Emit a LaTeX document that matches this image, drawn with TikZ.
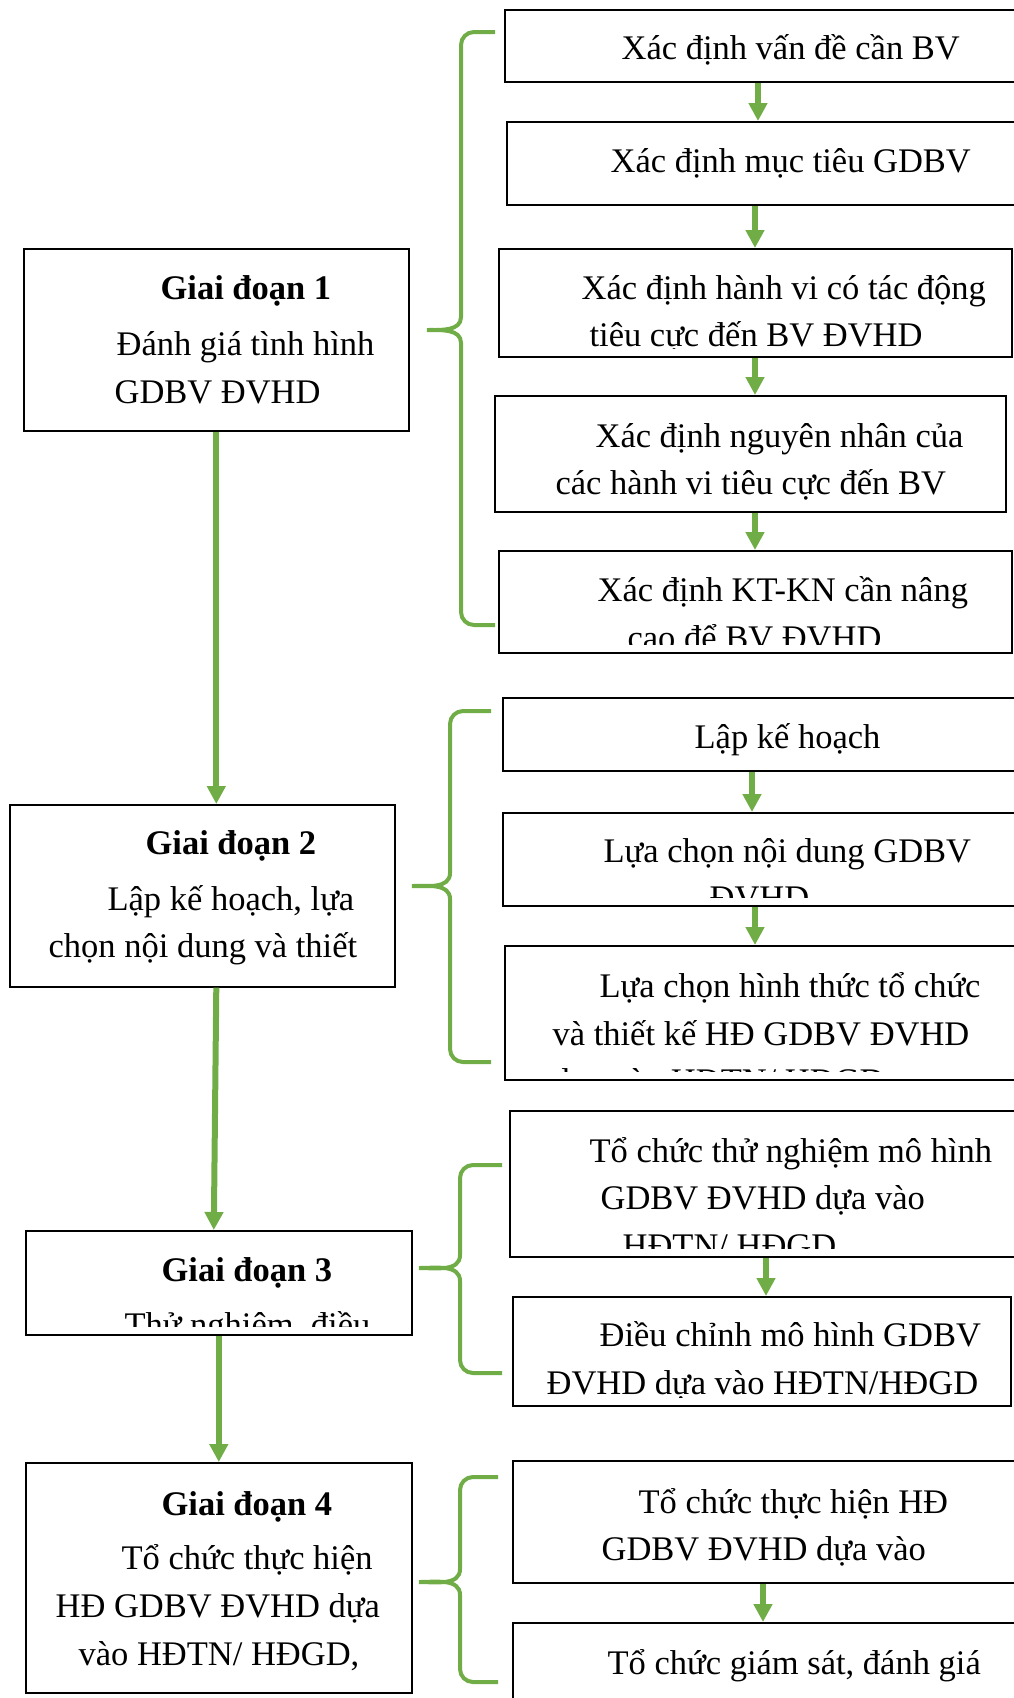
\documentclass[tikz,border=0pt]{standalone}
\usepackage{fontspec}
\setmainfont{Liberation Serif}
\usetikzlibrary{arrows.meta, calc}
\definecolor{leaf}{HTML}{70AD47}

\begin{document}
\begin{tikzpicture}[
    x=1pt, y=-1pt, % pixel grid, y runs downwards
    box/.style={draw, line width=1.6pt, anchor=north west, inner sep=0pt}, % step box
    txt/.style={draw=none, minimum size=0pt, font=\fontsize{34.5}{47.7}\selectfont, align=left, anchor=north west, inner sep=0pt},
    words/.style n args={4}{path picture={
        \clip (path picture bounding box.north west) rectangle ([yshift=8pt]path picture bounding box.south east);
        \node[txt] (#4) at ([shift={(#1,#2-2.5)}]path picture bounding box.north west) {#3};}}, % clipped text
    link/.style={leaf, line width=6pt, -{Triangle[length=18pt, width=18pt]}}, % green arrow
    brace/.style={leaf, line width=4pt} % green curly bracket
]

    % Page
    \useasboundingbox (0,0) rectangle (1014,1698);
    \clip (0,0) rectangle (1014,1698);

    % Stages (left column)
    \node[box, minimum width=385pt, minimum height=182pt,
        words={90}{19.3}{\hspace*{46pt}\strut\textbf{Giai đoạn 1}\\[8pt]\hspace*{2pt}Đánh giá tình hình\\GDBV ĐVHD}{g1t}] (g1) at (23,248) {};
    \node[box, minimum width=385pt, minimum height=182pt,
        words={38}{17.9}{\hspace*{97pt}\strut\textbf{Giai đoạn 2}\\[8pt]\hspace*{59pt}Lập kế hoạch, lựa\\chọn nội dung và thiết\\\hspace*{28pt}kế HĐ GDBV ĐVHD}{g2t}] (g2) at (9,804) {};
    \node[box, minimum width=386pt, minimum height=104pt,
        words={98}{18.6}{\hspace*{37pt}\strut\textbf{Giai đoạn 3}\\[8pt]Thử nghiệm, điều}{g3t}] (g3) at (25,1230) {};
    \node[box, minimum width=386pt, minimum height=230pt,
        words={29}{20.7}{\hspace*{106pt}\strut\textbf{Giai đoạn 4}\\[7pt]\hspace*{66pt}Tổ chức thực hiện\\HĐ GDBV ĐVHD dựa\\\hspace*{23pt}vào HĐTN/ HĐGD,}{g4t}] (g4) at (25,1462) {};

    % Steps of stage 1
    \node[box, minimum width=530pt, minimum height=72pt,
        words={116}{17.8}{\strut Xác định vấn đề cần BV}{a1t}] (a1) at (504,9) {};
    \node[box, minimum width=530pt, minimum height=83pt,
        words={103}{19.1}{\strut Xác định mục tiêu GDBV}{a2t}] (a2) at (506,121) {};
    \node[box, minimum width=513pt, minimum height=108pt,
        words={82}{18.7}{\strut Xác định hành vi có tác động\\\hspace*{8pt}tiêu cực đến BV ĐVHD}{a3t}] (a3) at (498,248) {};
    \node[box, minimum width=511pt, minimum height=116pt,
        words={60}{19.6}{\hspace*{40pt}\strut Xác định nguyên nhân của\\các hành vi tiêu cực đến BV}{a4t}] (a4) at (494,395) {};
    \node[box, minimum width=513pt, minimum height=102pt,
        words={98}{19.3}{\strut Xác định KT-KN cần nâng\\\hspace*{30pt}cao để BV ĐVHD}{a5t}] (a5) at (498,550) {};

    % Steps of stage 2
    \node[box, minimum width=530pt, minimum height=73pt,
        words={191}{18.8}{\strut Lập kế hoạch}{b1t}] (b1) at (502,697) {};
    \node[box, minimum width=530pt, minimum height=93pt,
        words={100}{17.5}{\strut Lựa chọn nội dung GDBV\\\hspace*{106pt}ĐVHD}{b2t}] (b2) at (502,812) {};
    \node[box, minimum width=530pt, minimum height=134pt,
        words={47}{19.9}{\hspace*{47pt}\strut Lựa chọn hình thức tổ chức\\và thiết kế HĐ GDBV ĐVHD\\dựa vào HĐTN/ HĐGD}{b3t}] (b3) at (504,945) {};

    % Steps of stage 3
    \node[box, minimum width=520pt, minimum height=146pt,
        words={79}{19.6}{\strut Tổ chức thử nghiệm mô hình\\\hspace*{11pt}GDBV ĐVHD dựa vào\\\hspace*{33pt}HĐTN/ HĐGD}{c1t}] (c1) at (509,1110) {};
    \node[box, minimum width=498pt, minimum height=109pt,
        words={33}{18.3}{\hspace*{53pt}\strut Điều chỉnh mô hình GDBV\\ĐVHD dựa vào HĐTN/HĐGD}{c2t}] (c2) at (512,1296) {};

    % Steps of stage 4
    \node[box, minimum width=520pt, minimum height=122pt,
        words={88}{20.6}{\hspace*{37pt}\strut Tổ chức thực hiện HĐ\\GDBV ĐVHD dựa vào}{d1t}] (d1) at (512,1460) {};
    \node[box, minimum width=520pt, minimum height=120pt,
        words={94}{20.1}{\strut Tổ chức giám sát, đánh giá}{d2t}] (d2) at (512,1622) {};

    % Arrows between stages
    \draw[link] (g1.south) -- (g1.south |- g2.north);
    \draw[link] ([xshift=14pt]g2.south) -- ([xshift=-5pt]g3.north);
    \draw[link] (g3.south) -- (g4.north);

    % Arrows between steps
    \draw[link] ([xshift=254pt]a1.south west) -- ([xshift=252pt]a2.north west);
    \draw[link] ([xshift=249pt]a2.south west) -- ([xshift=257pt]a3.north west);
    \draw[link] ([xshift=257pt]a3.south west) -- ([xshift=261pt]a4.north west);
    \draw[link] ([xshift=261pt]a4.south west) -- ([xshift=257pt]a5.north west);
    \draw[link] ([xshift=250pt]b1.south west) -- ([xshift=250pt]b2.north west);
    \draw[link] ([xshift=253pt]b2.south west) -- ([xshift=251pt]b3.north west);
    \draw[link] ([xshift=257pt]c1.south west) -- ([xshift=254pt]c2.north west);
    \draw[link] ([xshift=251pt]d1.south west) -- ([xshift=251pt]d2.north west);

    % Braces
    \draw[brace] (495,32) -- (474,32) to[out=180,in=90] (461,45) -- (461,317)
        to[out=-90,in=0] (427,330) to[out=0,in=90] (461,343) -- (461,612)
        to[out=-90,in=180] (474,625) -- (495,625);
    \draw[brace] (491,711) -- (463,711) to[out=180,in=90] (450,724) -- (450,873)
        to[out=-90,in=0] (412,886) to[out=0,in=90] (450,899) -- (450,1049)
        to[out=-90,in=180] (463,1062) -- (491,1062);
    \draw[brace] (502,1165) -- (473,1165) to[out=180,in=90] (460,1178) -- (460,1255)
        to[out=-90,in=0] (419,1268) to[out=0,in=90] (460,1281) -- (460,1360)
        to[out=-90,in=180] (473,1373) -- (502,1373);
    \draw[brace] (498,1477) -- (473,1477) to[out=180,in=90] (460,1490) -- (460,1569)
        to[out=-90,in=0] (419,1582) to[out=0,in=90] (460,1595) -- (460,1669)
        to[out=-90,in=180] (473,1682) -- (498,1682);

\end{tikzpicture}
\end{document}
